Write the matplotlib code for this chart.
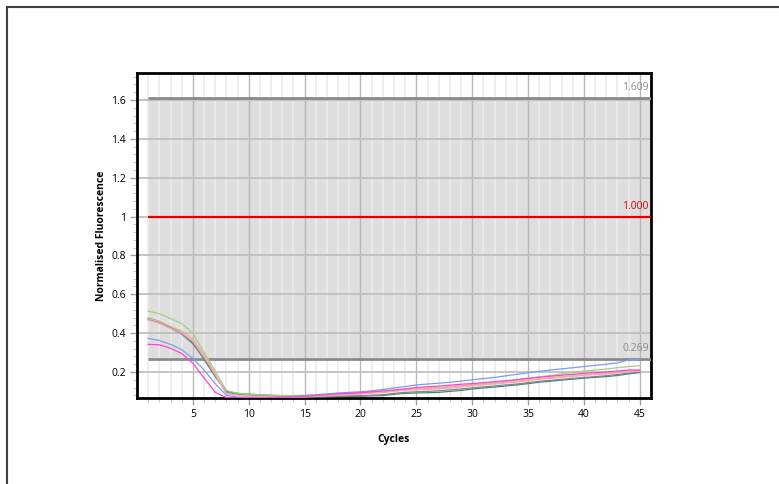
import matplotlib
matplotlib.use("Agg")
import matplotlib.pyplot as plt
from matplotlib.lines import Line2D
import numpy as np

plt.rcParams['font.family'] = ['Open Sans', 'DejaVu Sans']

cycles = list(range(1, 46))

light_green = [0.513, 0.50, 0.475, 0.45, 0.40, 0.30, 0.205, 0.105, 0.09, 0.085, 0.083, 0.08, 0.079, 0.079, 0.08,
               0.082, 0.085, 0.088, 0.09, 0.093, 0.097, 0.10, 0.105, 0.11, 0.115, 0.118, 0.12, 0.125, 0.13, 0.135,
               0.14, 0.145, 0.152, 0.16, 0.168, 0.175, 0.182, 0.19, 0.197, 0.205, 0.21, 0.215, 0.222, 0.228, 0.232]
dark_green = [0.477, 0.46, 0.43, 0.40, 0.35, 0.265, 0.175, 0.10, 0.09, 0.086, 0.083, 0.08, 0.077, 0.075, 0.073,
              0.072, 0.072, 0.073, 0.074, 0.075, 0.077, 0.078, 0.085, 0.09, 0.092, 0.093, 0.095, 0.10, 0.105, 0.112,
              0.118, 0.122, 0.128, 0.133, 0.14, 0.147, 0.152, 0.158, 0.163, 0.168, 0.172, 0.176, 0.182, 0.19, 0.197]
slate = [0.47, 0.455, 0.425, 0.395, 0.345, 0.27, 0.18, 0.095, 0.085, 0.08, 0.077, 0.075, 0.073, 0.072, 0.072,
         0.073, 0.074, 0.075, 0.077, 0.078, 0.08, 0.083, 0.09, 0.095, 0.098, 0.10, 0.103, 0.108, 0.113, 0.118,
         0.123, 0.128, 0.133, 0.138, 0.145, 0.152, 0.157, 0.162, 0.167, 0.172, 0.176, 0.181, 0.187, 0.194, 0.20]
tan = [0.475, 0.46, 0.435, 0.41, 0.37, 0.29, 0.19, 0.09, 0.08, 0.076, 0.074, 0.072, 0.071, 0.071, 0.072,
       0.074, 0.077, 0.08, 0.083, 0.086, 0.09, 0.094, 0.10, 0.105, 0.108, 0.11, 0.113, 0.118, 0.123, 0.128,
       0.133, 0.138, 0.143, 0.148, 0.155, 0.162, 0.167, 0.172, 0.177, 0.182, 0.186, 0.19, 0.195, 0.20, 0.205]
salmon = [0.468, 0.45, 0.425, 0.40, 0.36, 0.28, 0.185, 0.088, 0.078, 0.074, 0.072, 0.071, 0.07, 0.071, 0.073,
          0.076, 0.079, 0.082, 0.086, 0.09, 0.094, 0.098, 0.104, 0.108, 0.112, 0.115, 0.118, 0.123, 0.128, 0.133,
          0.138, 0.143, 0.148, 0.153, 0.16, 0.166, 0.171, 0.176, 0.181, 0.186, 0.19, 0.194, 0.199, 0.204, 0.208]
blue = [0.373, 0.362, 0.342, 0.315, 0.27, 0.21, 0.14, 0.08, 0.07, 0.068, 0.068, 0.069, 0.071, 0.074, 0.078,
        0.082, 0.087, 0.092, 0.095, 0.098, 0.103, 0.11, 0.118, 0.125, 0.133, 0.138, 0.142, 0.147, 0.153, 0.16,
        0.166, 0.172, 0.18, 0.188, 0.196, 0.203, 0.21, 0.216, 0.222, 0.228, 0.234, 0.24, 0.247, 0.262, 0.265]
magenta = [0.342, 0.34, 0.322, 0.295, 0.245, 0.17, 0.095, 0.068, 0.066, 0.066, 0.067, 0.068, 0.07, 0.072, 0.075,
           0.079, 0.083, 0.087, 0.09, 0.093, 0.098, 0.103, 0.108, 0.113, 0.12, 0.124, 0.127, 0.132, 0.137, 0.14,
           0.145, 0.15, 0.155, 0.16, 0.167, 0.173, 0.178, 0.183, 0.188, 0.193, 0.196, 0.20, 0.205, 0.21, 0.21]

series = [dark_green, slate, light_green, tan, salmon, blue, magenta]
colors = ['#3a9068', '#8c7ca0', '#a4d080', '#e2b890', '#f0a8bc', '#7c9cf4', '#ff44cc']

thresholds = [1.609, 1.000, 0.269]
threshold_labels = ['1.609', '1.000', '0.269']
threshold_colors = ['#8a8a8a', '#e00000', '#8a8a8a']

x_ticks = [5, 10, 15, 20, 25, 30, 35, 40, 45]
y_ticks = [0.2, 0.4, 0.6, 0.8, 1.0, 1.2, 1.4, 1.6]
y_tick_labels = ['0.2', '0.4', '0.6', '0.8', '1', '1.2', '1.4', '1.6']

fig = plt.figure(figsize=(7.79, 4.84), dpi=100)
ax = fig.add_axes([137/779, 1-398/484, (651-137)/779, (398-73)/484])

ax.set_xlim(0, 46)
ax.set_ylim(0.066, 1.739)

# shaded band between thresholds
ax.fill_between([1, 46], thresholds[2], thresholds[0], color='#dedede', zorder=0, lw=0)

# vertical grid
for c in range(1, 46):
    if c % 5 == 0:
        ax.axvline(c, color='#b8b8b8', lw=1.0, zorder=1)
    else:
        ax.axvline(c, color='#ebebeb', lw=1.2, zorder=1)
for yv in y_ticks:
    ax.axhline(yv, color='#c0c0c0', lw=1.3, zorder=1)

# threshold lines
for t, lab, col in zip(thresholds, threshold_labels, threshold_colors):
    lw = 1.6 if col == '#e00000' else 2.0
    ax.plot([1, 46], [t, t], color=col, lw=lw, zorder=3, solid_capstyle='butt')
    ax.text(45.8, t + 0.025, lab, color=col, fontsize=7.5, ha='right', va='bottom', zorder=4)

for s, col in zip(series, colors):
    ax.plot(cycles, s, color=col, lw=0.9, zorder=5)

for sp in ax.spines.values():
    sp.set_linewidth(2)
    sp.set_color('black')

ax.set_xticks(x_ticks)
ax.set_xticklabels([str(v) for v in x_ticks], fontsize=7.5)
ax.set_xticks(range(1, 46), minor=True)
ax.set_yticks(y_ticks)
ax.set_yticklabels(y_tick_labels, fontsize=7.5)
ax.set_yticks(np.arange(0.08, 1.74, 0.04), minor=True)
ax.tick_params(axis='both', which='major', length=5, color='#a0a0a0', width=1, pad=3)
ax.tick_params(axis='both', which='minor', length=3, color='#c8c8c8', width=0.8)

ax.set_xlabel('Cycles', fontsize=7.5, fontweight='bold', labelpad=10)
ax.set_ylabel('Normalised Fluorescence', fontsize=7.5, fontweight='bold', labelpad=3)

# outer frame lines (top and left)
fig.add_artist(Line2D([7/779, 7/779], [0, 1-7/484], transform=fig.transFigure, color='#404040', lw=1.5))
fig.add_artist(Line2D([7/779, 778/779], [1-7/484, 1-7/484], transform=fig.transFigure, color='#404040', lw=1.5))

fig.savefig('out.png', dpi=100)
